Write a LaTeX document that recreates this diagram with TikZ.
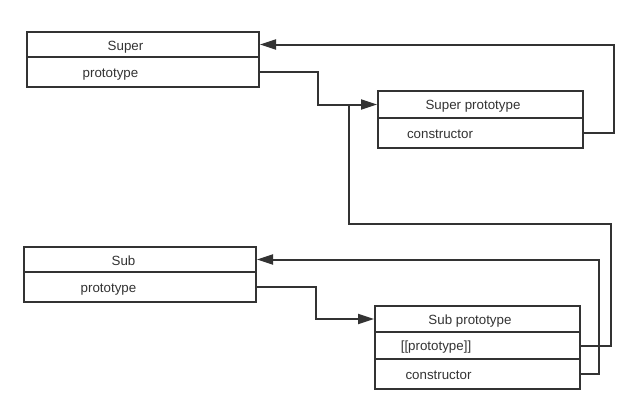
\documentclass[tikz,border=0pt]{standalone}
\usepackage{fontspec}
\setmainfont{Liberation Sans}
\usetikzlibrary{arrows.meta,positioning}
\definecolor{ink}{HTML}{333333}
% one row of a record box: name, x1, y1, x2, y2 (pixel units)
\newcommand{\rowbox}[5]{%
  \node[row, minimum width={(#4-#2)*0.75pt}, minimum height={(#5-#3)*0.75pt}]
    (#1) at ({(#2+#4)/2},{(#3+#5)/2}) {};}

\begin{document}
\begin{tikzpicture}[
  x=0.75pt, y=-0.75pt,
  font=\fontsize{10}{12}\selectfont,
  >={Triangle[length=12pt,width=7.5pt]},
  row/.style={draw=ink, line width=1.5pt, fill=white, inner sep=0pt},
  txt/.style={text=ink, inner sep=0pt, anchor=base},
  link/.style={draw=ink, line width=1.5pt}
]
\useasboundingbox (0,0) rectangle (637,419);

% ===== Super =====
\rowbox{supTitle}{27}{32}{259}{57}
\rowbox{supProto}{27}{57}{259}{87}
\node[txt] (supTitleT) at (125.5,50) {Super};
\node[txt] (supProtoT) at (110.5,77) {prototype};

% ===== Super prototype =====
\rowbox{spTitle}{378}{91}{583}{118}
\rowbox{spCtor}{378}{118}{583}{148}
\node[txt] (spTitleT) at (473,109.5) {Super prototype};
\node[txt] (spCtorT) at (440,138) {constructor};

% ===== Sub =====
\rowbox{subTitle}{24}{247}{256}{272}
\rowbox{subProto}{24}{272}{256}{302}
\node[txt] (subTitleT) at (123.5,265) {Sub};
\node[txt] (subProtoT) at (108.5,292) {prototype};

% ===== Sub prototype =====
\rowbox{sbpTitle}{375}{306}{580}{332}
\rowbox{sbpInner}{375}{332}{580}{359}
\rowbox{sbpCtor}{375}{359}{580}{389}
\node[txt] (sbpTitleT) at (470,324) {Sub prototype};
\node[txt] (sbpInnerT) at (436,350.5) {[[prototype]]};
\node[txt] (sbpCtorT) at (438.5,379) {constructor};

% ===== links =====
\draw[link,->] (spCtor.east) -- ++(30,0) |- (supTitle.east);
\draw[link,->] (supProto.east) -- ++(58,0) |- (spTitle.west);
\coordinate (bend) at (349,224);
\draw[link] (sbpInner.east) -- ++(30,0) |- (bend) -- (bend |- spTitle.west);
\draw[link,->] (sbpCtor.east) -- ++(18,0) |- (subTitle.east);
\draw[link,->] (subProto.east) -- ++(59,0) |- (sbpTitle.west);
\end{tikzpicture}
\end{document}
